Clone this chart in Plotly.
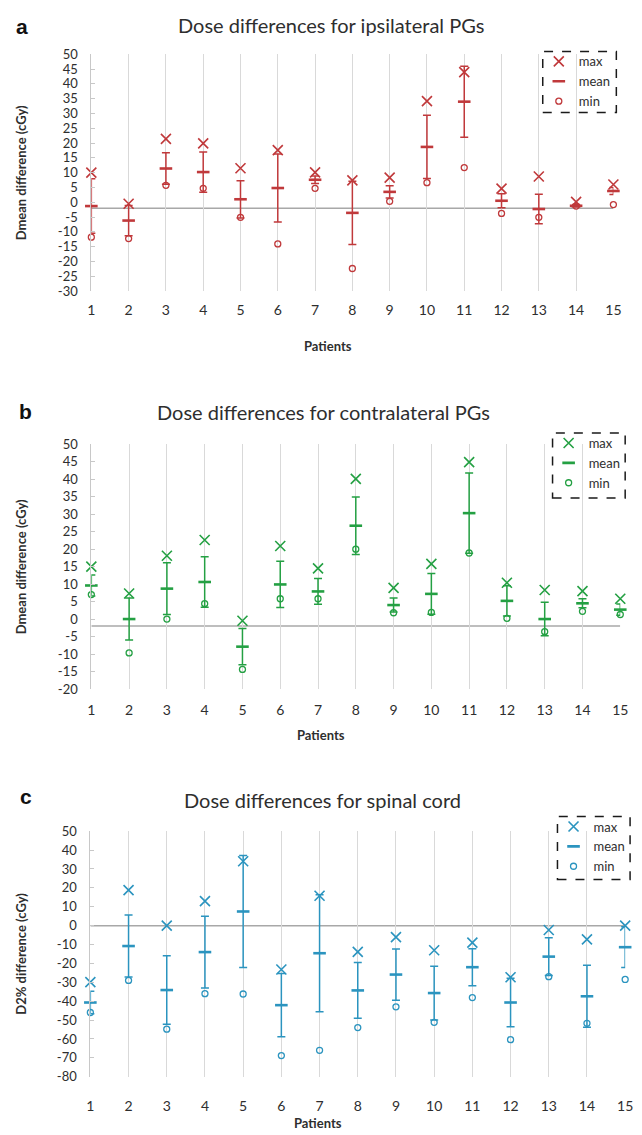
import plotly.graph_objects as go

# ---------------- data ----------------
patients = list(range(1, 16))

# a: ipsilateral PGs (cGy)
ipsi_max = [10.0, -0.5, 21.4, 19.9, 11.5, 17.6, 10.1, 7.4, 8.3, 34.2, 44.0, 4.6, 8.7, 0.1, 6.0]
ipsi_mean = [-1.3, -6.2, 11.4, 10.2, 1.0, 4.8, 7.6, -3.6, 3.5, 18.7, 34.0, 0.5, -2.3, -1.2, 3.8]
ipsi_sd = [9.2, 5.1, 5.3, 6.8, 6.3, 11.5, 1.3, 10.7, 2.1, 10.7, 12.0, 2.4, 5.0, 0.4, 1.2]
ipsi_min = [-11.8, -12.3, 5.7, 4.7, -5.1, -14.1, 4.7, -22.4, 0.3, 6.6, 11.7, -3.8, -5.1, -1.3, -0.8]

# b: contralateral PGs (cGy)
contra_max = [15.0, 7.3, 18.1, 22.6, -0.5, 20.9, 14.5, 40.1, 8.9, 15.8, 44.9, 10.4, 8.3, 8.0, 5.8]
contra_mean = [9.6, 0.0, 8.7, 10.6, -7.9, 9.9, 7.9, 26.7, 4.0, 7.2, 30.3, 5.2, 0.0, 4.5, 2.7]
contra_sd = [3.0, 6.0, 7.4, 7.2, 5.2, 6.6, 3.7, 8.2, 2.0, 5.8, 11.5, 4.3, 4.8, 1.3, 1.6]
contra_min = [7.0, -9.7, 0.0, 4.4, -14.4, 5.8, 5.8, 20.0, 1.8, 1.9, 18.9, 0.2, -3.6, 2.2, 1.3]

# c: spinal cord D2% (cGy)
cord_max = [-29.9, 18.8, 0.0, 13.0, 34.1, -23.2, 15.8, -13.9, -6.1, -13.0, -9.0, -27.3, -2.3, -7.3, 0.0]
cord_mean = [-40.7, -10.8, -34.1, -14.0, 7.5, -42.1, -14.6, -34.3, -25.9, -35.7, -22.0, -40.7, -16.4, -37.4, -11.4]
cord_sd = [5.9, 16.4, 18.1, 19.0, 29.6, 16.7, 31.0, 14.8, 13.6, 14.2, 9.8, 12.8, 10.0, 16.4, 10.8]
cord_min = [-46.0, -29.0, -54.8, -36.0, -36.2, -68.8, -66.0, -54.0, -43.0, -51.2, -38.1, -60.4, -27.0, -51.7, -28.5]

series_names = ["max", "mean", "min"]
tick_vals_ab = list(range(-30, 51, 5))
tick_vals_c = list(range(-80, 51, 10))

# ---------------- layout helpers ----------------
W, H = 642, 1135
FONT = "Lato"
TXT = "#2e2e2e"


def px(v):
    return v / W


def py(v):
    return 1 - v / H


panels = [
    dict(letter="a", title="Dose differences for ipsilateral PGs", ytitle="Dmean difference (cGy)",
         color="#c0393b", mx=ipsi_max, mean=ipsi_mean, sd=ipsi_sd, mn=ipsi_min,
         yrange=[-30, 50], dtick=5, baseline=-2,
         top=47, bottom=287, left=89, right=621,
         title_xy=(333, 17), letter_xy=(18, 19), pat_xy=(330, 343), tick_standoff=9,
         legbox=(549, 44, 624, 106)),
    dict(letter="b", title="Dose differences for contralateral PGs", ytitle="Dmean difference (cGy)",
         color="#24a043", mx=contra_max, mean=contra_mean, sd=contra_sd, mn=contra_min,
         yrange=[-20, 50], dtick=5, baseline=-2,
         top=442.5, bottom=690.7, left=89, right=628,
         title_xy=(326, 410), letter_xy=(22, 409), pat_xy=(323, 737), tick_standoff=11,
         legbox=(559, 431, 633, 497)),
    dict(letter="c", title="Dose differences for spinal cord", ytitle="D2% difference (cGy)",
         color="#2b94bf", mx=cord_max, mean=cord_mean, sd=cord_sd, mn=cord_min,
         yrange=[-80, 50], dtick=10, baseline=0,
         top=835, bottom=1084, left=88, right=633,
         title_xy=(325, 803), letter_xy=(22, 800), pat_xy=(320, 1131), tick_standoff=19,
         legbox=(564, 820, 638, 884)),
]

fig = go.Figure()
shapes = []
annotations = []
layout_axes = {}

for i, p in enumerate(panels, start=1):
    sfx = "" if i == 1 else str(i)
    xa, ya = "x" + sfx, "y" + sfx
    leg = "legend" + sfx
    c = p["color"]

    fig.add_trace(go.Scatter(
        x=patients, y=p["mx"], mode="markers", name=series_names[0], legend=leg,
        xaxis=xa, yaxis=ya, cliponaxis=False,
        marker=dict(symbol="x-thin-open", size=10, color=c, line=dict(color=c, width=1.6))))
    fig.add_trace(go.Scatter(
        x=patients, y=p["mean"], mode="markers", name=series_names[1], legend=leg,
        xaxis=xa, yaxis=ya, cliponaxis=False,
        error_y=dict(type="data", array=p["sd"], symmetric=True, color=c, thickness=1.5, width=4),
        marker=dict(symbol="line-ew", size=9, color=c, line=dict(color=c, width=2.6))))
    fig.add_trace(go.Scatter(
        x=patients, y=p["mn"], mode="markers", name=series_names[2], legend=leg,
        xaxis=xa, yaxis=ya, cliponaxis=False,
        marker=dict(symbol="circle-open", size=6, color=c, line=dict(color=c, width=1.3))))

    layout_axes["xaxis" + sfx] = dict(
        domain=[px(p["left"]), px(p["right"])], anchor=ya, range=[1, 15],
        tickmode="array", tickvals=patients, ticktext=[str(v) for v in patients],
        showgrid=True, gridcolor="#d9d9d9", gridwidth=1.2, zeroline=False,
        showline=False, ticks="", ticklabelstandoff=p["tick_standoff"],
        tickfont=dict(family=FONT, size=14, color=TXT))
    tv = tick_vals_c if p["dtick"] == 10 else [v for v in tick_vals_ab if v >= p["yrange"][0]]
    layout_axes["yaxis" + sfx] = dict(
        domain=[py(p["bottom"]), py(p["top"])], anchor=xa, range=p["yrange"],
        tickmode="array", tickvals=tv, ticktext=[str(v) for v in tv],
        showgrid=False, zeroline=False, showline=True, linecolor="#c8c8c8", linewidth=1,
        ticks="inside", ticklen=4, tickcolor="#c8c8c8", ticklabelstandoff=10,
        tickfont=dict(family=FONT, size=13, color=TXT))

    # baseline
    shapes.append(dict(type="line", xref=xa, yref=ya, x0=1, x1=15, y0=p["baseline"], y1=p["baseline"],
                       line=dict(color="#a8a8a8", width=1.5), layer="below"))
    # legend dashed box
    l, t, r, b = p["legbox"]
    shapes.append(dict(type="rect", xref="paper", yref="paper", x0=px(l), x1=px(r), y0=py(b), y1=py(t),
                       line=dict(color="#1a1a1a", width=1.5, dash="dash"), fillcolor="rgba(0,0,0,0)"))
    layout_axes[leg] = dict(x=px(l - 4), y=py(t - 5), xanchor="left", yanchor="top",
                            bgcolor="rgba(0,0,0,0)", borderwidth=0, tracegroupgap=0,
                            itemwidth=30,
                            font=dict(family=FONT, size=13, color=TXT))

    # texts
    tx, ty = p["title_xy"]
    annotations.append(dict(text=p["title"], x=px(tx), y=py(ty), xref="paper", yref="paper",
                            showarrow=False, xanchor="center", yanchor="middle",
                            font=dict(family=FONT, size=20, color=TXT)))
    lx, ly = p["letter_xy"]
    annotations.append(dict(text="<b>" + p["letter"] + "</b>", x=px(lx), y=py(ly), xref="paper", yref="paper",
                            showarrow=False, xanchor="center", yanchor="middle",
                            font=dict(family="Liberation Sans", size=21, color="#111111")))
    annotations.append(dict(text="<b>" + p["ytitle"] + "</b>", x=px(17), y=py((p["top"] + p["bottom"]) / 2),
                            xref="paper", yref="paper", showarrow=False, textangle=-90,
                            xanchor="center", yanchor="middle",
                            font=dict(family=FONT, size=13, color=TXT)))
    qx, qy = p["pat_xy"]
    annotations.append(dict(text="<b>Patients</b>", x=px(qx), y=py(qy), xref="paper", yref="paper",
                            showarrow=False, xanchor="center", yanchor="middle",
                            font=dict(family=FONT, size=13, color=TXT)))

fig.update_layout(
    width=W, height=H, autosize=False,
    margin=dict(l=0, r=0, t=0, b=0),
    paper_bgcolor="white", plot_bgcolor="white",
    showlegend=True, shapes=shapes, annotations=annotations,
    **layout_axes)

fig.write_html("out.html")
